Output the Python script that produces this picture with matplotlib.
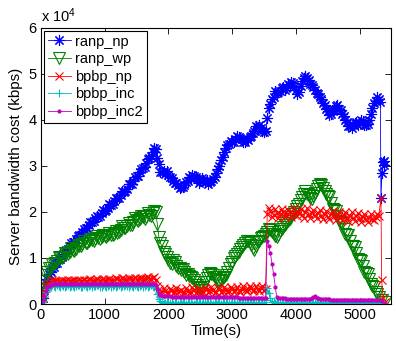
import numpy as np
import matplotlib
matplotlib.use('Agg')
import matplotlib.pyplot as plt

plt.rcParams['font.family'] = ['Liberation Sans', 'DejaVu Sans']
plt.rcParams['mathtext.default'] = 'regular'

# sample times (s), shared grid 0..5300, every 25 s
t = np.arange(0, 5301, 25)

# values in thousands of kbps, 20 samples per row
ranp_np = [0.0, 1.4, 3.0, 4.6, 5.5, 6.6, 7.0, 7.9, 8.0, 8.9, 9.0, 9.9, 9.8, 10.2, 10.9, 11.6, 11.8, 12.0, 12.5, 13.3,
           13.4, 13.5, 14.2, 14.8, 14.9, 15.0, 15.6, 16.4, 16.5, 16.5, 17.2, 17.9, 17.8, 18.0, 18.6, 19.2, 19.0, 19.1, 19.7, 20.5,
           20.3, 20.4, 20.9, 21.7, 21.6, 21.7, 22.4, 23.1, 23.0, 23.1, 23.8, 24.6, 24.4, 24.5, 25.1, 26.0, 26.0, 26.1, 26.8, 27.6,
           27.8, 27.9, 28.6, 29.4, 29.5, 29.8, 30.6, 31.6, 31.8, 32.2, 33.0, 33.9, 33.6, 31.8, 30.4, 28.8, 28.8, 28.9, 28.2, 28.9,
           28.0, 27.5, 27.4, 26.7, 26.4, 26.2, 25.9, 25.2, 25.4, 25.5, 25.8, 26.5, 26.7, 27.6, 27.4, 28.1, 27.8, 27.5, 27.2, 26.4,
           26.8, 27.4, 27.0, 26.5, 26.9, 26.1, 26.6, 26.8, 27.2, 27.6, 28.4, 29.3, 30.0, 31.2, 32.0, 33.1, 33.8, 34.6, 34.8, 35.5,
           35.3, 35.3, 35.8, 36.6, 36.3, 36.0, 35.8, 35.2, 35.2, 35.9, 35.6, 36.2, 36.5, 37.2, 37.6, 38.6, 38.4, 38.8, 38.2, 37.6,
           37.3, 37.6, 40.4, 42.6, 43.5, 44.5, 45.0, 46.2, 45.9, 46.0, 46.3, 46.9, 47.2, 46.5, 47.0, 47.8, 47.5, 48.3, 48.0, 47.2,
           46.5, 45.7, 46.0, 47.4, 48.5, 49.2, 49.6, 49.1, 48.6, 47.8, 47.5, 47.1, 46.6, 45.8, 45.6, 45.0, 44.5, 43.6, 43.2, 42.3,
           42.0, 41.0, 41.2, 41.9, 42.2, 43.0, 43.2, 42.4, 42.1, 41.2, 40.8, 39.9, 39.5, 38.7, 38.6, 38.2, 38.9, 39.3, 39.5, 38.9,
           39.4, 40.1, 39.8, 39.0, 38.8, 39.2, 40.0, 41.3, 42.5, 43.6, 44.2, 45.0, 44.6]
ranp_np_tail_t = [5325, 5335, 5350, 5365, 5380, 5390]
ranp_np_tail = [44.0, 23.0, 28.5, 30.8, 30.2, 31.0]

ranp_wp = [0.3, 3.2, 5.0, 6.4, 7.0, 7.9, 7.8, 8.8, 8.6, 9.0, 9.4, 10.2, 10.0, 10.0, 10.3, 11.1, 10.8, 10.9, 11.4, 12.2,
           11.8, 11.6, 12.0, 12.9, 12.6, 12.5, 13.0, 13.7, 13.3, 13.2, 13.6, 14.2, 13.9, 13.8, 14.2, 14.8, 14.4, 14.2, 14.5, 15.0,
           14.7, 14.6, 14.9, 15.4, 15.1, 15.0, 15.3, 15.9, 15.5, 15.6, 16.0, 16.9, 16.6, 16.5, 17.0, 17.6, 17.2, 17.1, 17.8, 18.6,
           18.2, 18.0, 18.5, 19.2, 18.9, 18.5, 19.0, 19.7, 19.4, 19.2, 19.8, 20.2, 20.0, 17.4, 14.5, 13.2, 12.5, 11.4, 10.8, 10.3,
           9.5, 9.0, 8.6, 9.6, 9.2, 8.3, 7.8, 7.9, 7.4, 7.6, 7.0, 6.3, 6.5, 6.1, 5.8, 5.6, 5.2, 4.8, 4.2, 3.6,
           3.4, 3.0, 3.6, 4.8, 5.6, 6.4, 6.8, 6.5, 6.2, 5.8, 5.5, 5.1, 5.0, 5.3, 5.6, 5.8, 6.2, 7.0, 7.8, 8.6,
           9.2, 9.9, 10.4, 10.8, 11.4, 12.0, 12.4, 12.9, 13.2, 13.6, 13.8, 13.4, 12.8, 12.2, 11.8, 12.6, 13.4, 13.8, 14.3, 14.6,
           14.8, 15.3, 15.6, 16.2, 16.0, 15.6, 15.2, 14.8, 14.6, 15.1, 15.8, 16.4, 16.8, 17.1, 17.6, 18.0, 18.4, 18.9, 19.5, 20.1,
           20.6, 21.2, 21.8, 22.5, 23.2, 23.9, 24.6, 24.0, 23.6, 23.0, 22.8, 23.4, 24.2, 25.0, 25.6, 26.0, 25.8, 25.2, 24.6, 24.0,
           23.4, 23.2, 22.0, 20.6, 20.5, 20.3, 19.2, 18.0, 17.8, 17.6, 16.4, 15.2, 15.0, 14.9, 13.8, 12.6, 12.5, 12.3, 11.0, 9.8,
           9.6, 9.3, 8.2, 7.0, 6.8, 6.5, 5.4, 4.3, 4.0, 3.6, 2.6, 2.1, 1.6]
ranp_wp_tail_t = [5350, 5400]
ranp_wp_tail = [0.8, 0.4]

bpbp_np = [0.0, 1.2, 2.5, 3.6, 4.2, 4.6, 4.8, 5.2, 4.9, 5.1, 5.0, 4.8, 4.9, 5.2, 5.1, 4.9, 5.0, 5.3, 5.0, 4.9,
           5.1, 5.3, 5.0, 4.9, 5.2, 5.0, 5.1, 5.3, 5.1, 5.0, 5.2, 5.4, 5.1, 5.0, 5.2, 5.4, 5.3, 5.1, 5.2, 5.4,
           5.2, 5.1, 5.3, 5.5, 5.2, 5.1, 5.3, 5.6, 5.4, 5.2, 5.3, 5.6, 5.4, 5.2, 5.3, 5.6, 5.5, 5.3, 5.4, 5.7,
           5.5, 5.3, 5.4, 5.7, 5.5, 5.4, 5.6, 5.8, 5.5, 5.4, 5.6, 5.8, 5.2, 4.0, 3.2, 2.4, 2.6, 3.4, 2.9, 2.2,
           2.4, 3.3, 3.1, 2.3, 2.7, 3.5, 2.5, 2.8, 3.0, 2.2, 2.6, 3.4, 2.8, 2.4, 2.7, 3.6, 3.1, 2.3, 2.6, 3.3,
           2.9, 2.4, 2.7, 3.5, 3.2, 2.5, 2.8, 3.6, 3.0, 2.4, 2.7, 3.4, 3.3, 2.6, 2.9, 3.7, 3.1, 2.6, 2.8, 3.6,
           3.2, 2.7, 3.0, 3.8, 2.9, 2.6, 3.3, 3.9, 3.0, 2.8, 3.2, 4.0, 3.4, 2.8, 3.1, 3.9, 3.3, 2.9, 3.5, 4.0,
           3.0, 3.2, 19.6, 20.8, 20.2, 18.9, 19.3, 20.6, 19.8, 18.8, 19.5, 20.7, 20.1, 19.0, 19.4, 20.5, 19.9, 18.9, 19.6, 20.8,
           20.3, 19.1, 19.7, 20.6, 19.4, 18.8, 20.0, 20.9, 19.5, 18.7, 19.8, 20.5, 19.3, 18.6, 19.7, 20.4, 19.2, 18.5, 19.6, 20.3,
           19.0, 18.4, 19.5, 20.2, 19.1, 18.3, 19.4, 20.1, 18.9, 18.2, 19.3, 20.0, 18.8, 18.1, 19.2, 19.9, 18.7, 18.0, 19.1, 19.8,
           18.6, 17.9, 18.9, 19.6, 18.5, 17.9, 18.8, 19.5, 18.4, 18.2, 18.9, 19.6, 19.2]
bpbp_np_tail_t = [5335, 5345, 5370, 5400]
bpbp_np_tail = [23.0, 5.2, 1.2, 0.5]

bpbp_inc = [0.0, 0.6, 1.5, 2.6, 3.3, 3.6, 3.8, 4.1, 3.9, 3.7, 4.1, 3.9, 3.8, 4.2, 4.0, 3.7, 3.9, 4.1, 3.7, 4.0,
            4.0, 3.7, 3.9, 4.2, 4.1, 3.8, 3.8, 4.1, 3.9, 3.7, 4.0, 4.2, 3.7, 3.9, 3.9, 4.2, 4.1, 3.7, 3.8, 4.1,
            3.9, 3.7, 4.0, 4.2, 3.8, 4.0, 4.1, 3.7, 3.9, 4.2, 3.7, 3.9, 4.0, 4.2, 3.9, 3.7, 4.1, 3.9, 3.8, 4.2,
            4.0, 3.7, 3.9, 4.1, 3.8, 4.0, 4.1, 3.7, 3.9, 4.2, 4.0, 3.8, 3.5, 2.2, 1.0, 0.6, 0.4, 0.2, 0.3, 0.5,
            0.2, 0.3, 0.4, 0.1, 0.3, 0.5, 0.1, 0.2, 0.3, 0.5, 0.4, 0.1, 0.2, 0.4, 0.3, 0.1, 0.1, 0.5, 0.4, 0.2,
            0.3, 0.1, 0.2, 0.5, 0.4, 0.2, 0.3, 0.1, 0.1, 0.4, 0.3, 0.5, 0.2, 0.1, 0.4, 0.3, 0.3, 0.5, 0.2, 0.1,
            0.3, 0.4, 0.1, 0.2, 0.4, 0.5, 0.2, 0.1, 0.3, 0.4, 0.4, 0.2, 0.2, 0.5, 0.3, 0.1, 0.1, 0.4, 0.3, 0.2,
            0.4, 0.8, 3.4, 2.4, 1.2, 0.4, 0.6, 0.2, 0.3, 0.5, 0.2, 0.1, 0.4, 0.3, 0.3, 0.5, 0.1, 0.2, 0.3, 0.4,
            0.2, 0.1, 0.4, 0.3, 0.3, 0.5, 0.2, 0.1, 0.3, 0.4, 0.1, 0.2, 0.4, 0.5, 0.3, 0.1, 0.2, 0.4, 0.3, 0.1,
            0.4, 0.2, 0.2, 0.5, 0.3, 0.1, 0.1, 0.4, 0.3, 0.2, 0.4, 0.5, 0.2, 0.1, 0.3, 0.4, 0.2, 0.1, 0.4, 0.3,
            0.3, 0.5, 0.1, 0.2, 0.3, 0.4, 0.2, 0.1, 0.4, 0.3, 0.3, 0.1, 0.2]
bpbp_inc_tail_t = [5350, 5390]
bpbp_inc_tail = [0.1, 0.0]

bpbp_inc2 = [0.0, 0.8, 1.8, 2.8, 3.6, 4.0, 4.2, 4.3, 4.3, 4.3, 4.3, 4.3, 4.3, 4.3, 4.3, 4.3, 4.3, 4.3, 4.3, 4.3,
             4.3, 4.3, 4.3, 4.3, 4.3, 4.3, 4.3, 4.3, 4.35, 4.35, 4.35, 4.35, 4.35, 4.35, 4.35, 4.35, 4.35, 4.35, 4.35, 4.35,
             4.4, 4.4, 4.4, 4.4, 4.4, 4.4, 4.4, 4.4, 4.4, 4.4, 4.4, 4.4, 4.4, 4.4, 4.4, 4.4, 4.4, 4.4, 4.4, 4.4,
             4.4, 4.4, 4.4, 4.4, 4.4, 4.4, 4.4, 4.4, 4.4, 4.4, 4.4, 4.4, 4.2, 3.2, 2.3, 1.9, 1.7, 1.7, 1.7, 1.7,
             1.7, 1.7, 1.6, 1.6, 1.6, 1.6, 1.6, 1.6, 1.6, 1.6, 1.6, 1.6, 1.6, 1.6, 1.6, 1.6, 1.6, 1.6, 1.6, 1.6,
             1.5, 1.5, 1.5, 1.5, 1.5, 1.5, 1.5, 1.5, 1.5, 1.5, 1.5, 1.5, 1.5, 1.5, 1.5, 1.5, 1.5, 1.5, 1.5, 1.5,
             1.5, 1.5, 1.5, 1.5, 1.4, 1.4, 1.4, 1.4, 1.4, 1.4, 1.4, 1.4, 1.4, 1.4, 1.4, 1.4, 1.4, 1.4, 1.4, 1.4,
             1.4, 1.4, 13.8, 12.6, 11.0, 8.8, 6.5, 3.8, 1.5, 1.3, 1.2, 1.2, 1.2, 1.2, 1.1, 1.1, 1.1, 1.1, 1.1, 1.1,
             1.1, 1.1, 1.1, 1.1, 1.0, 1.0, 1.0, 1.0, 1.0, 1.0, 1.2, 1.6, 1.7, 1.3, 1.2, 1.1, 1.0, 1.0, 1.0, 1.0,
             1.0, 1.0, 0.9, 0.9, 0.9, 0.9, 0.9, 0.9, 0.9, 0.9, 0.9, 0.9, 0.9, 0.9, 0.9, 0.9, 0.9, 0.9, 0.8, 0.8,
             0.8, 0.8, 0.8, 0.8, 0.8, 0.8, 0.8, 0.8, 0.8, 0.8, 0.8, 0.8, 0.8]
bpbp_inc2_tail_t = [5350, 5400]
bpbp_inc2_tail = [0.6, 0.1]

series = [
    ('ranp_np', ranp_np, ranp_np_tail_t, ranp_np_tail,
     dict(color='b', marker=(8, 2, 0), ms=8, mew=0.8)),
    ('ranp_wp', ranp_wp, ranp_wp_tail_t, ranp_wp_tail,
     dict(color='#008000', marker='v', ms=8, mfc='none', mew=0.8)),
    ('bpbp_np', bpbp_np, bpbp_np_tail_t, bpbp_np_tail,
     dict(color='r', marker='x', ms=5.5, mew=0.8)),
    ('bpbp_inc', bpbp_inc, bpbp_inc_tail_t, bpbp_inc_tail,
     dict(color=(0, 0.75, 0.75), marker='+', ms=6, mew=0.8)),
    ('bpbp_inc2', bpbp_inc2, bpbp_inc2_tail_t, bpbp_inc2_tail,
     dict(color=(0.75, 0, 0.75), marker='.', ms=4)),
]

fig = plt.figure(figsize=(3.96, 3.41), dpi=100)
ax = fig.add_axes([0.1035, 0.1085, 0.8835, 0.8095])

for name, vals, tail_t, tail, style in series:
    x = np.concatenate([t, tail_t])
    y = np.concatenate([vals, tail]) * 1000
    ax.plot(x, y, lw=0.6, label=name, **style)

ax.set_xlim(0, 5490)
ax.set_ylim(0, 60000)
ax.set_xticks([0, 1000, 2000, 3000, 4000, 5000])
ax.set_yticks(np.arange(0, 60001, 10000))
ax.set_yticklabels(['0', '1', '2', '3', '4', '5', '6'])
ax.tick_params(direction='in', top=True, right=True, length=4,
               width=0.6, labelsize=10.5, pad=3)
for s in ax.spines.values():
    s.set_linewidth(0.8)

ax.text(0, 1.012, r'x 10$^4$', transform=ax.transAxes, fontsize=10.5,
        ha='left', va='bottom')
ax.set_xlabel('Time(s)', fontsize=11, labelpad=1)
ax.set_ylabel('Server bandwidth cost (kbps)', fontsize=11, labelpad=4)

leg = ax.legend(loc='upper left', fontsize=10.5, numpoints=1,
                handlelength=1.6, handletextpad=0.3, labelspacing=0.25,
                borderpad=0.25, borderaxespad=0.2, fancybox=False,
                framealpha=1, edgecolor='k')
leg.get_frame().set_linewidth(0.8)

fig.savefig('out.png', dpi=100)
